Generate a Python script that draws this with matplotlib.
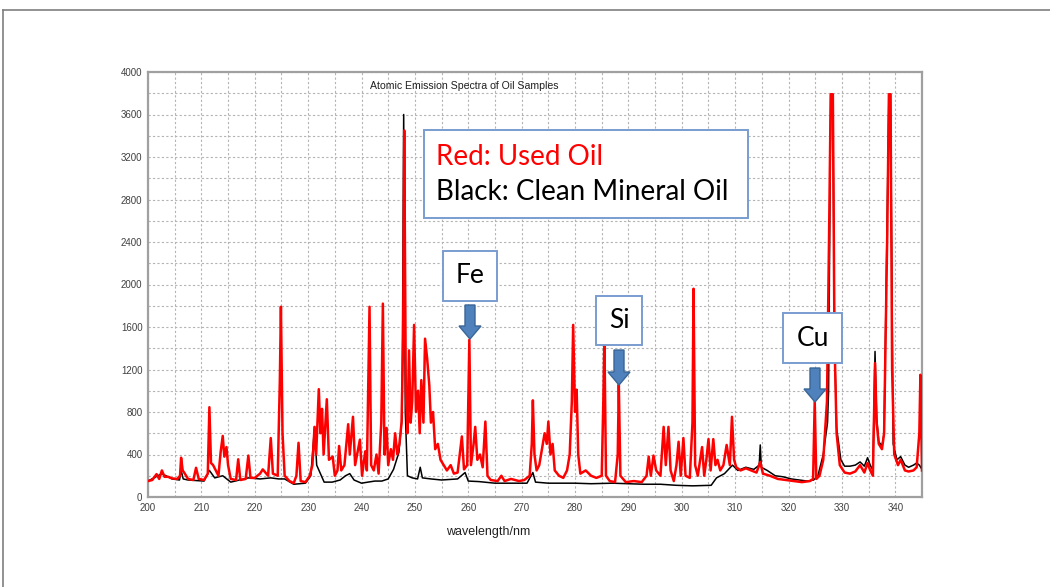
import matplotlib
matplotlib.use("Agg")
import matplotlib.pyplot as plt
from matplotlib.patches import Polygon, Rectangle
from matplotlib.lines import Line2D
from matplotlib.ticker import MultipleLocator

# spectrum of used oil (red)
red_wl = [200.0, 200.8, 201.6, 202.1, 202.6, 203.1, 203.8, 204.5, 205.5, 206.0, 206.2, 206.5, 206.9, 207.5,
          208.5, 209.0, 209.5, 210.5, 211.2, 211.5, 211.8, 212.2, 212.7, 213.2, 213.6, 214.0, 214.3, 214.7,
          215.0, 215.5, 216.5, 216.9, 217.3, 218.3, 218.8, 219.2, 220.0, 221.0, 221.5, 222.0, 222.5, 223.0,
          223.4, 224.3, 224.7, 224.9, 225.2, 225.6, 226.5, 227.3, 227.8, 228.2, 228.6, 229.5, 230.3, 230.8,
          231.2, 231.5, 232.0, 232.3, 232.6, 232.9, 233.5, 233.9, 234.6, 235.0, 235.5, 235.8, 236.2, 236.8,
          237.5, 237.8, 238.4, 238.8, 239.7, 240.1, 240.7, 241.0, 241.5, 241.8, 242.3, 242.8, 243.2, 243.7,
          244.0, 244.3, 244.7, 245.0, 245.5, 245.9, 246.3, 246.7, 247.1, 247.5, 247.8, 248.0, 248.3, 248.6,
          248.9, 249.2, 249.5, 249.85, 250.2, 250.6, 250.9, 251.2, 251.6, 251.9, 252.3, 252.7, 253.0, 253.4,
          253.8, 254.3, 254.8, 255.4, 256.0, 256.7, 257.3, 258.0, 258.8, 259.2, 259.8, 260.2, 260.5, 261.0,
          261.3, 261.7, 262.2, 262.7, 263.2, 263.6, 264.2, 265.5, 266.2, 266.8, 268.0, 269.5, 270.5, 271.5,
          271.9, 272.1, 272.4, 272.8, 273.3, 273.8, 274.3, 274.7, 275.0, 275.4, 275.8, 276.2, 277.0, 277.8,
          278.5, 279.0, 279.4, 279.65, 280.0, 280.3, 280.6, 281.0, 282.0, 283.0, 284.0, 285.0, 285.3, 285.5,
          285.8, 286.5, 287.5, 288.0, 288.2, 288.5, 289.5, 291.0, 292.5, 293.4, 293.8, 294.2, 294.7, 295.2,
          296.0, 296.6, 297.0, 297.5, 297.9, 298.5, 299.0, 299.4, 299.8, 300.3, 300.7, 301.5, 302.0, 302.2,
          302.5, 303.0, 303.8, 304.2, 304.6, 305.0, 305.4, 305.9, 306.3, 306.7, 307.2, 307.8, 308.4, 309.0,
          309.4, 309.8, 310.2, 311.0, 312.0, 313.0, 314.0, 314.7, 315.2, 316.5, 318.0, 319.5, 321.0, 322.5,
          324.0, 324.6, 324.9, 325.2, 325.8, 326.5, 327.2, 327.6, 327.9, 328.3, 328.6, 329.0, 329.6, 330.5,
          331.5, 332.5, 333.4, 334.2, 334.8, 335.3, 335.8, 336.2, 336.5, 336.9, 337.5, 337.9, 338.5, 338.8,
          339.1, 339.4, 339.8, 340.5, 341.0, 341.8, 342.5, 343.4, 344.0, 344.5, 344.7, 345.0]
red_int = [150, 160, 215, 170, 250, 190, 190, 175, 170, 200, 370, 250, 220, 170,
           160, 275, 170, 160, 220, 845, 320, 300, 250, 200, 420, 575, 380, 470,
           300, 170, 160, 355, 160, 170, 390, 180, 180, 220, 260, 230, 200, 555,
           220, 200, 1100, 1790, 600, 200, 150, 130, 200, 510, 150, 140, 200, 300,
           660, 400, 1015, 600, 830, 400, 920, 350, 380, 200, 250, 480, 250, 300,
           685, 400, 755, 300, 540, 200, 430, 250, 1790, 300, 250, 400, 220, 700,
           1820, 400, 650, 300, 450, 350, 600, 400, 500, 700, 1500, 3450, 1000, 600,
           1380, 700, 900, 1620, 800, 1000, 600, 1100, 700, 1490, 1300, 1050, 700, 800,
           450, 500, 350, 300, 250, 300, 220, 230, 570, 260, 300, 1480, 300, 500,
           660, 350, 400, 280, 710, 200, 160, 150, 200, 150, 170, 150, 160, 200,
           500, 910, 400, 250, 300, 450, 600, 500, 710, 400, 500, 250, 200, 180,
           250, 400, 900, 1620, 800, 1010, 400, 220, 250, 200, 180, 200, 900, 1500,
           200, 150, 140, 400, 1060, 200, 140, 150, 140, 200, 380, 200, 390, 250,
           200, 660, 300, 660, 250, 150, 300, 520, 200, 555, 200, 180, 700, 1960,
           300, 200, 470, 200, 350, 545, 250, 545, 300, 350, 250, 300, 490, 300,
           755, 350, 280, 250, 270, 250, 230, 330, 220, 200, 170, 160, 150, 140,
           150, 170, 900, 170, 200, 350, 900, 2500, 3790, 3790, 1500, 600, 300, 230,
           220, 240, 300, 230, 320, 250, 200, 1260, 700, 500, 450, 600, 2500, 3790,
           3790, 1200, 400, 300, 350, 250, 240, 250, 280, 600, 1150, 250]

# spectrum of clean mineral oil (black)
black_wl = [200.0, 202.6, 204.5, 205.9, 206.2, 206.6, 207.5, 210.5, 211.5, 212.5, 214.0, 215.5, 218.8,
            221.0, 223.0, 224.5, 225.6, 227.3, 229.5, 230.5, 231.2, 231.6, 233.0, 234.5, 236.0, 237.0,
            237.8, 238.6, 240.0, 241.2, 242.5, 243.8, 245.0, 246.0, 247.0, 247.6, 247.9, 248.2, 248.6,
            249.5, 250.5, 251.0, 251.4, 253.0, 255.0, 258.0, 259.4, 260.0, 262.0, 265.0, 268.0, 271.0,
            272.1, 272.6, 275.0, 280.0, 283.0, 287.0, 290.0, 293.0, 296.0, 299.0, 302.0, 305.5, 306.5,
            308.0, 309.5, 310.5, 312.0, 313.5, 314.5, 314.7, 314.9, 316.0, 317.5, 319.0, 320.5, 322.0,
            323.5, 324.7, 325.5, 326.5, 327.3, 327.5, 327.9, 328.3, 328.6, 329.0, 329.8, 330.5, 331.5,
            332.5, 333.4, 334.2, 334.8, 335.3, 335.8, 336.2, 336.5, 336.9, 337.5, 337.9, 338.8, 339.1,
            339.6, 340.3, 341.0, 341.8, 342.5, 343.4, 344.0, 344.5, 345.0]
black_int = [150, 220, 170, 160, 250, 170, 160, 150, 250, 180, 200, 140, 180,
             170, 180, 170, 170, 120, 130, 200, 660, 300, 140, 140, 160, 200,
             220, 160, 130, 140, 150, 150, 170, 260, 420, 750, 3600, 800, 200,
             180, 170, 280, 180, 170, 160, 170, 230, 150, 145, 130, 130, 130,
             230, 140, 130, 130, 125, 130, 125, 120, 120, 110, 105, 110, 180,
             220, 300, 250, 280, 260, 300, 490, 280, 250, 200, 190, 170, 160,
             150, 160, 200, 400, 700, 1000, 3790, 3790, 1500, 650, 350, 290, 290,
             300, 330, 290, 370, 300, 250, 1370, 750, 520, 480, 600, 3790, 3790,
             500, 350, 380, 300, 280, 300, 320, 300, 260]

x_ticks = list(range(200, 341, 10))
y_ticks = list(range(0, 4001, 400))

# element labels: name, box (left, top, right, bottom) in px, arrow x, arrow top, arrow tip
labels = [("Fe", (443, 251, 497, 301), 470, 305, 339),
          ("Si", (596, 296, 642, 345), 619, 350, 385),
          ("Cu", (783, 313, 842, 363), 815, 368, 402)]

W, H = 1050, 587
fig = plt.figure(figsize=(W / 100, H / 100), dpi=100)


def fx(px):
    return px / W


def fy(py):
    return 1 - py / H


ax = fig.add_axes([fx(148), fy(497), fx(922) - fx(148), fy(72) - fy(497)])

ax.plot(black_wl, black_int, color="black", lw=1.1, zorder=3)
ax.plot(red_wl, red_int, color="#ff0000", lw=1.8, zorder=4)

ax.set_xlim(200, 345)
ax.set_ylim(0, 4000)
ax.set_xticks(x_ticks)
ax.set_yticks(y_ticks)
ax.xaxis.set_minor_locator(MultipleLocator(5))
ax.yaxis.set_minor_locator(MultipleLocator(200))
ax.grid(which="both", color="#b4b4b4", linestyle=(0, (2, 2)), lw=0.8, zorder=0)
ax.tick_params(which="both", length=0, labelsize=7, labelcolor="#404040", pad=4)
for lab in ax.get_xticklabels() + ax.get_yticklabels():
    lab.set_family("Liberation Sans")
for side in ax.spines.values():
    side.set_color("#a0a0a0")
    side.set_linewidth(1.6)

ax.text(0.408, 0.968, "Atomic Emission Spectra of Oil Samples", transform=ax.transAxes,
        ha="center", va="center", fontsize=7.6, family="Liberation Sans", color="#202020")
ax.set_xlabel("wavelength/nm", fontsize=9, family="Liberation Sans", color="#202020")
ax.xaxis.set_label_coords(0.439, -0.068)

# slide frame
fig.add_artist(Line2D([fx(3), fx(3)], [fy(10), 0], color="#7f7f7f", lw=1.2))
fig.add_artist(Line2D([fx(3), 1], [fy(10), fy(10)], color="#7f7f7f", lw=1.2))

# legend box
fig.add_artist(Rectangle((fx(424), fy(218)), fx(748) - fx(424), fy(130) - fy(218),
                         facecolor="white", edgecolor="#7a9cd0", lw=1.4, zorder=10))
fig.text(fx(436), fy(157), "Red: Used Oil", color="#ff0000", fontsize=20, family="Lato",
         va="center", zorder=11)
fig.text(fx(436), fy(192), "Black: Clean Mineral Oil", color="black", fontsize=20, family="Lato",
         va="center", zorder=11)

for name, (l, t, r, b), ax_x, top, tip in labels:
    fig.add_artist(Rectangle((fx(l), fy(b)), fx(r) - fx(l), fy(t) - fy(b),
                             facecolor="white", edgecolor="#7a9cd0", lw=1.4, zorder=10))
    fig.text(fx((l + r) / 2), fy((t + b) / 2), name, fontsize=19, family="Lato",
             ha="center", va="center", zorder=11)
    neck = tip - 13
    pts = [(ax_x - 5, top), (ax_x + 5, top), (ax_x + 5, neck), (ax_x + 11, neck),
           (ax_x, tip), (ax_x - 11, neck), (ax_x - 5, neck)]
    fig.add_artist(Polygon([(fx(px), fy(py)) for px, py in pts], closed=True,
                           facecolor="#4f81bd", edgecolor="#3a6596", lw=1, zorder=10))

fig.savefig("out.png", dpi=100)
